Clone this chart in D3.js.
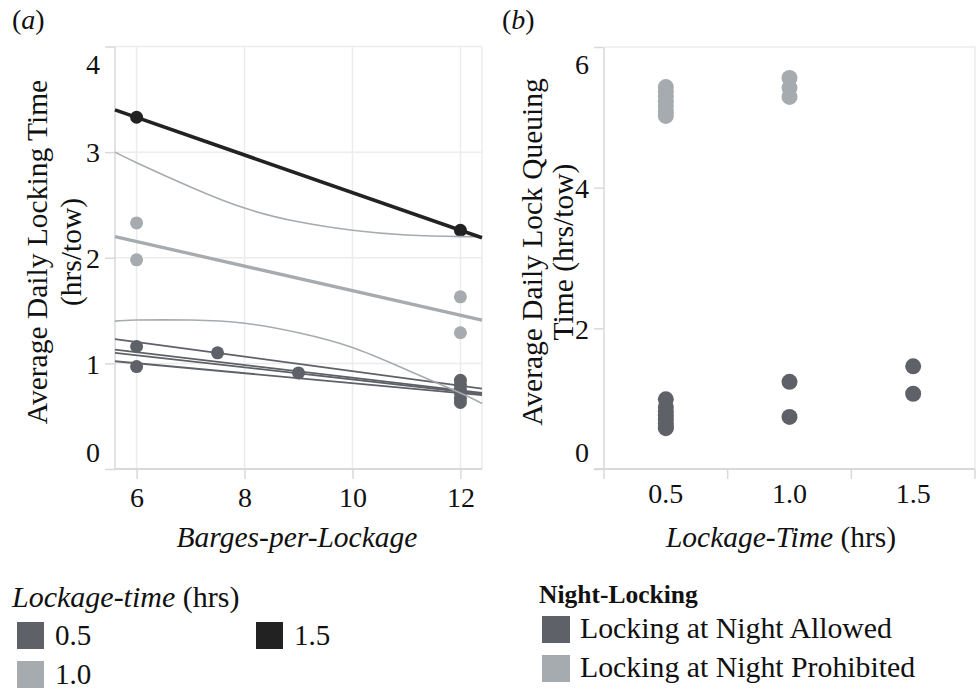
<!DOCTYPE html>
<html>
<head>
<meta charset="utf-8">
<script src="https://cdn.jsdelivr.net/npm/d3@7"></script>
<style>
  body { margin: 0; background: #fff; }
  text { font-family: "Liberation Serif", "Times New Roman", serif; fill: #111; }
</style>
</head>
<body>
<svg id="chart" width="979" height="692"></svg>
<script>
// lockage-time categories and their colours
const lockageTimes = ["0.5", "1.0", "1.5"];
const lockageColors = ["#5f6168", "#a5abae", "#222222"];
const nightLabels = ["Locking at Night Allowed", "Locking at Night Prohibited"];

// panel (a): barges-per-lockage vs avg daily locking time
const barges05 = [6, 6, 7.5, 9, 12, 12, 12, 12, 12, 12];
const locking05 = [1.16, 0.97, 1.10, 0.91, 0.84, 0.80, 0.76, 0.72, 0.67, 0.63];
const barges10 = [6, 6, 12, 12];
const locking10 = [2.33, 1.98, 1.63, 1.29];
const barges15 = [6, 12];
const locking15 = [3.33, 2.26];

// trend lines, value at left and right edge of the x range
const trendEdges = [5.6, 12.4];
const trend05 = [[1.23, 0.76], [1.13, 0.72], [1.10, 0.71], [1.02, 0.70]];
const trend10 = [2.20, 1.41];
const trend15 = [3.40, 2.19];

// confidence band of the 1.0 trend
const bandX = [5.6, 6, 7, 8, 9, 10, 11, 12, 12.4];
const bandUpper = [3.00, 2.90, 2.67, 2.47, 2.34, 2.26, 2.215, 2.20, 2.20];
const bandLower = [1.40, 1.41, 1.41, 1.38, 1.29, 1.15, 0.94, 0.72, 0.62];

// panel (b): lockage-time vs avg daily queuing time
const queueAllowed05 = [0.99, 0.88, 0.82, 0.76, 0.70, 0.65, 0.60, 0.58];
const queueAllowed10 = [1.24, 0.74];
const queueAllowed15 = [1.46, 1.07];
const queueProhib05 = [5.43, 5.37, 5.30, 5.23, 5.16, 5.08, 5.02];
const queueProhib10 = [5.56, 5.42, 5.29];

const svg = d3.select("#chart");
const color = d3.scaleOrdinal().domain(lockageTimes).range(lockageColors);
const nightColor = d3.scaleOrdinal().domain(nightLabels).range([lockageColors[0], lockageColors[1]]);

const gridColor = "#ececec", frameColor = "#d9d9d9";

function styleAxis(g) {
  g.select(".domain").remove();
  g.selectAll(".tick line").attr("stroke", frameColor).attr("stroke-width", 1.5);
  g.selectAll(".tick text").attr("font-size", 28).attr("fill", "#111")
    .style("font-family", "Liberation Serif");
}

// ---------- panel (a) ----------
const xA = d3.scaleLinear().domain(trendEdges).range([115, 482]);
const yA = d3.scaleLinear().domain([0, 4]).range([469, 46.5]);
const pa = svg.append("g");

pa.append("g").selectAll("line").data([6, 8, 10, 12]).enter().append("line")
  .attr("x1", d => xA(d)).attr("x2", d => xA(d))
  .attr("y1", yA(4)).attr("y2", yA(0))
  .attr("stroke", gridColor).attr("stroke-width", 1.5);
pa.append("g").selectAll("line").data([1, 2, 3]).enter().append("line")
  .attr("x1", xA.range()[0]).attr("x2", xA.range()[1])
  .attr("y1", d => yA(d)).attr("y2", d => yA(d))
  .attr("stroke", gridColor).attr("stroke-width", 1.5);

// frame
pa.append("line").attr("x1", xA.range()[0]).attr("x2", xA.range()[0]).attr("y1", yA(4)).attr("y2", yA(0)).attr("stroke", frameColor).attr("stroke-width", 1.5);
pa.append("line").attr("x1", xA.range()[1]).attr("x2", xA.range()[1]).attr("y1", yA(4)).attr("y2", yA(0)).attr("stroke", gridColor).attr("stroke-width", 1.5);
pa.append("line").attr("x1", xA.range()[0]).attr("x2", xA.range()[1]).attr("y1", yA(4)).attr("y2", yA(4)).attr("stroke", gridColor).attr("stroke-width", 1.5);
pa.append("line").attr("x1", xA.range()[0]).attr("x2", xA.range()[1]).attr("y1", yA(0)).attr("y2", yA(0)).attr("stroke", frameColor).attr("stroke-width", 2);

const axA = pa.append("g").attr("transform", `translate(0,${yA(0)})`)
  .call(d3.axisBottom(xA).tickValues([6, 8, 10, 12]).tickSize(10).tickFormat(d3.format("d")));
styleAxis(axA);
axA.selectAll(".tick text").attr("y", 38).attr("dy", 0);

const ayA = pa.append("g").attr("transform", `translate(${xA.range()[0]},0)`)
  .call(d3.axisLeft(yA).tickValues([0, 1, 2, 3, 4]).tickSize(10).tickFormat(d3.format("d")));
styleAxis(ayA);
ayA.selectAll(".tick text").attr("x", -15)
  .attr("dy", d => d === 0 ? "-0.28em" : d === 4 ? "0.95em" : "0.35em");

// points
const ptsA = [
  { xs: barges05, ys: locking05, c: "0.5" },
  { xs: barges10, ys: locking10, c: "1.0" },
  { xs: barges15, ys: locking15, c: "1.5" }
];
ptsA.forEach(s => {
  pa.append("g").selectAll("circle").data(s.xs.map((x, i) => [x, s.ys[i]])).enter()
    .append("circle")
    .attr("cx", d => xA(d[0])).attr("cy", d => yA(d[1])).attr("r", 6.5)
    .attr("fill", color(s.c));
});

// trend lines
const line = d3.line().x(d => xA(d[0])).y(d => yA(d[1]));
trend05.forEach(t => {
  pa.append("path").datum(trendEdges.map((x, i) => [x, t[i]])).attr("d", line)
    .attr("fill", "none").attr("stroke", color("0.5")).attr("stroke-width", 1.8);
});
const bandLine = d3.line().x(d => xA(d[0])).y(d => yA(d[1])).curve(d3.curveNatural);
[bandUpper, bandLower].forEach(b => {
  pa.append("path").datum(bandX.map((x, i) => [x, b[i]])).attr("d", bandLine)
    .attr("fill", "none").attr("stroke", color("1.0")).attr("stroke-width", 1.6);
});
pa.append("path").datum(trendEdges.map((x, i) => [x, trend10[i]])).attr("d", line)
  .attr("fill", "none").attr("stroke", color("1.0")).attr("stroke-width", 3.3);
pa.append("path").datum(trendEdges.map((x, i) => [x, trend15[i]])).attr("d", line)
  .attr("fill", "none").attr("stroke", color("1.5")).attr("stroke-width", 3.6);

// titles
svg.append("text").attr("x", 12).attr("y", 29).attr("font-size", 28)
  .html('(<tspan font-style="italic">a</tspan>)');
svg.append("text").attr("x", 297).attr("y", 547).attr("text-anchor", "middle")
  .attr("font-size", 29.5).attr("font-style", "italic").text("Barges-per-Lockage");
const ytA = svg.append("text").attr("transform", "translate(47,252) rotate(-90)")
  .attr("text-anchor", "middle").attr("font-size", 29.5);
ytA.append("tspan").attr("x", 0).attr("y", 0).text("Average Daily Locking Time");
ytA.append("tspan").attr("x", 0).attr("y", 34).text("(hrs/tow)");

// ---------- panel (b) ----------
const xB = d3.scaleBand().domain(lockageTimes).range([604, 975]);
const yB = d3.scaleLinear().domain([0, 6]).range([469, 47]);
const pb = svg.append("g");

pb.append("line").attr("x1", 604).attr("x2", 604).attr("y1", yB(6)).attr("y2", yB(0)).attr("stroke", frameColor).attr("stroke-width", 1.5);
pb.append("line").attr("x1", 975).attr("x2", 975).attr("y1", yB(6)).attr("y2", yB(0)).attr("stroke", gridColor).attr("stroke-width", 1.5);
pb.append("line").attr("x1", 604).attr("x2", 975).attr("y1", yB(6)).attr("y2", yB(6)).attr("stroke", gridColor).attr("stroke-width", 1.5);
pb.append("line").attr("x1", 594).attr("x2", 975).attr("y1", yB(0)).attr("y2", yB(0)).attr("stroke", frameColor).attr("stroke-width", 2);

// band dividers below the axis
const edges = lockageTimes.map(d => xB(d)).concat([xB.range()[1]]);
pb.append("g").selectAll("line").data(edges).enter().append("line")
  .attr("x1", d => d).attr("x2", d => d).attr("y1", yB(0)).attr("y2", yB(0) + 10)
  .attr("stroke", frameColor).attr("stroke-width", 1.5);
pb.append("g").selectAll("text").data(lockageTimes).enter().append("text")
  .attr("x", d => xB(d) + xB.bandwidth() / 2).attr("y", 503)
  .attr("text-anchor", "middle").attr("font-size", 28).text(d => d);

const ayB = pb.append("g").attr("transform", "translate(604,0)")
  .call(d3.axisLeft(yB).tickValues([0, 2, 4, 6]).tickSize(10).tickFormat(d3.format("d")));
styleAxis(ayB);
ayB.selectAll(".tick text").attr("x", -15)
  .attr("dy", d => d === 0 ? "-0.28em" : d === 6 ? "0.95em" : "0.35em");

const ptsB = [
  { cat: "0.5", ys: queueAllowed05, n: nightLabels[0] },
  { cat: "1.0", ys: queueAllowed10, n: nightLabels[0] },
  { cat: "1.5", ys: queueAllowed15, n: nightLabels[0] },
  { cat: "0.5", ys: queueProhib05, n: nightLabels[1] },
  { cat: "1.0", ys: queueProhib10, n: nightLabels[1] }
];
ptsB.forEach(s => {
  pb.append("g").selectAll("circle").data(s.ys).enter().append("circle")
    .attr("cx", xB(s.cat) + xB.bandwidth() / 2).attr("cy", d => yB(d)).attr("r", 8)
    .attr("fill", nightColor(s.n));
});

svg.append("text").attr("x", 502).attr("y", 29).attr("font-size", 28)
  .html('(<tspan font-style="italic">b</tspan>)');
svg.append("text").attr("x", 781).attr("y", 547).attr("text-anchor", "middle")
  .attr("font-size", 29.5)
  .html('<tspan font-style="italic">Lockage-Time</tspan> (hrs)');
const ytB = svg.append("text").attr("transform", "translate(542,252) rotate(-90)")
  .attr("text-anchor", "middle").attr("font-size", 29.5);
ytB.append("tspan").attr("x", 0).attr("y", 0).text("Average Daily Lock Queuing");
ytB.append("tspan").attr("x", 0).attr("y", 31).text("Time (hrs/tow)");

// ---------- legends ----------
const lg1 = svg.append("g");
lg1.append("text").attr("x", 12).attr("y", 607).attr("font-size", 30)
  .html('<tspan font-style="italic">Lockage-time</tspan> (hrs)');
const lg1pos = { "0.5": [17, 622], "1.0": [17, 661], "1.5": [256, 622] };
lockageTimes.forEach(d => {
  const [x, y] = lg1pos[d];
  lg1.append("rect").attr("x", x).attr("y", y).attr("width", 27).attr("height", 27).attr("fill", color(d));
  lg1.append("text").attr("x", x + 38).attr("y", y + 23).attr("font-size", 29).text(d);
});

const lg2 = svg.append("g");
lg2.append("text").attr("x", 539).attr("y", 603).attr("font-size", 25.5)
  .attr("font-weight", "bold").text("Night-Locking");
nightLabels.forEach((d, i) => {
  const y = 616 + i * 39;
  lg2.append("rect").attr("x", 542).attr("y", y).attr("width", 28).attr("height", 27).attr("fill", nightColor(d));
  lg2.append("text").attr("x", 580).attr("y", y + 22).attr("font-size", 29.8).text(d);
});
</script>
</body>
</html>
